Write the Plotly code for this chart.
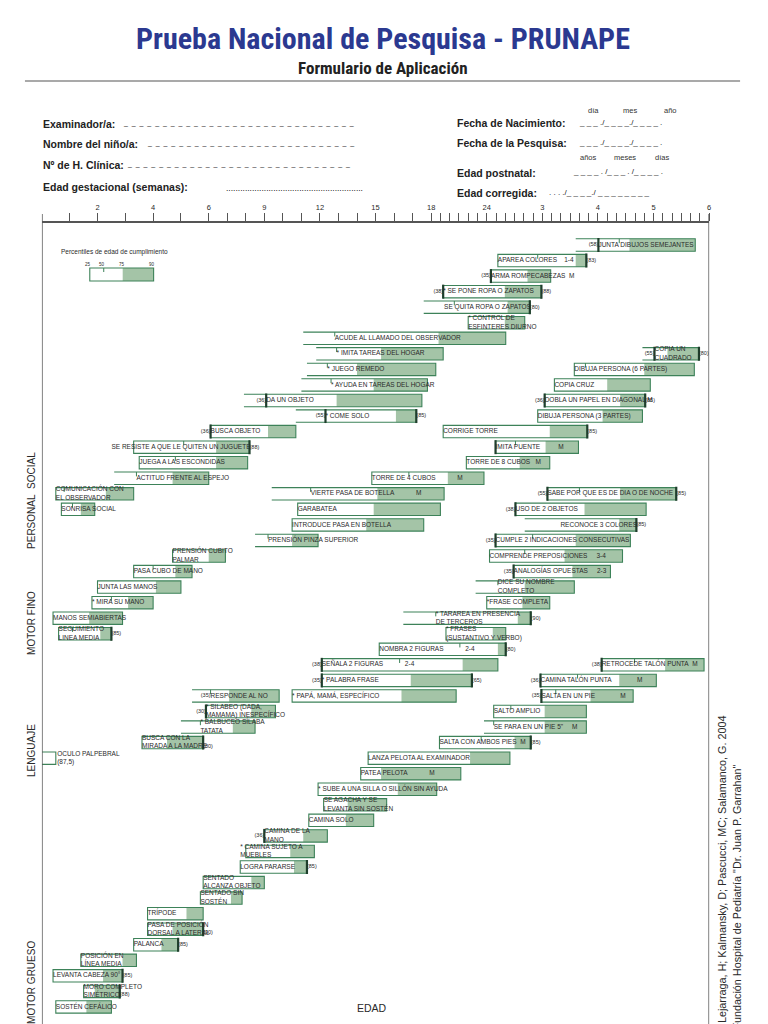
import numpy as np
import plotly.graph_objects as go

NB = "\u00a0"

# age scale of the form (months): labelled knots are equally spaced on the axis
AGE_KNOTS = [0, 2, 4, 6, 9, 12, 15, 18, 24, 36, 48, 60, 72]
KNOT_TEXT = ["", "2", "4", "6", "9", "12", "15", "18", "24", "3", "4", "5", "6"]
TICK_AGES = list(range(1, 25)) + list(range(26, 73, 2))

ITEMS = [
    "JUNTA DIBUJOS SEMEJANTES", "APAREA COLORES" + NB * 4 + "1-4", "ARMA ROMPECABEZAS" + NB * 2 + "M",
    "* SE PONE ROPA O ZAPATOS", "SE QUITA ROPA O ZAPATOS", "* CONTROL DE<br>ESFINTERES DIURNO",
    "ACUDE AL LLAMADO DEL OBSERVADOR", "* IMITA TAREAS DEL HOGAR", "* JUEGO REMEDO",
    "* AYUDA EN TAREAS DEL HOGAR", "DA UN OBJETO", "* COME SOLO", "BUSCA OBJETO",
    "SE RESISTE A QUE LE QUITEN UN JUGUETE", "JUEGA A LAS ESCONDIDAS", "ACTITUD FRENTE AL ESPEJO",
    "COMUNICACIÓN CON<br>EL OBSERVADOR", "SONRISA SOCIAL",
    "COPIA UN<br>CUADRADO", "DIBUJA PERSONA (6 PARTES)", "COPIA CRUZ",
    "DOBLA UN PAPEL EN DIAGONAL M", "DIBUJA PERSONA (3 PARTES)", "CORRIGE TORRE",
    "IMITA PUENTE" + NB * 10 + "M", "TORRE DE 8 CUBOS" + NB * 3 + "M", "TORRE DE 4 CUBOS" + NB * 12 + "M",
    "VIERTE PASA DE BOTELLA" + NB * 12 + "M", "GARABATEA", "INTRODUCE PASA EN BOTELLA",
    "PRENSIÓN PINZA SUPERIOR", "PRENSIÓN CUBITO<br>PALMAR", "PASA CUBO DE MANO", "JUNTA LAS MANOS",
    "* MIRA SU MANO", "MANOS SEMIABIERTAS", "SEGUIMIENTO<br>LINEA MEDIA",
    "SABE POR QUE ES DE DIA O DE NOCHE", "USO DE 2 OBJETOS", "RECONOCE 3 COLORES",
    "CUMPLE 2 INDICACIONES CONSECUTIVAS", "COMPRENDE PREPOSICIONES" + NB * 5 + "3-4",
    "ANALOGÍAS OPUESTAS" + NB * 5 + "2-3", "DICE SU NOMBRE<br>COMPLETO", "*FRASE COMPLETA",
    "* TARAREA EN PRESENCIA<br>DE TERCEROS", "* FRASES<br>(SUSTANTIVO Y VERBO)",
    "NOMBRA 2 FIGURAS" + NB * 12 + "2-4", "SEÑALA 2 FIGURAS" + NB * 12 + "2-4", "* PALABRA FRASE",
    "* PAPÁ, MAMÁ, ESPECÍFICO", "RESPONDE AL NO", "* SILABEO (DADA,<br>MAMAMA) INESPECÍFICO",
    "* BALBUCEO SÍLABA<br>TATATA", "BUSCA CON LA<br>MIRADA A LA MADRE", "OCULO PALPEBRAL<br>(87,5)",
    "RETROCEDE TALÓN PUNTA" + NB * 2 + "M", "CAMINA TALÓN PUNTA" + NB * 14 + "M",
    "SALTA EN UN PIE" + NB * 14 + "M", "SALTO AMPLIO", "SE PARA EN UN PIE 5\"" + NB * 5 + "M",
    "SALTA CON AMBOS PIES" + NB * 2 + "M", "LANZA PELOTA AL EXAMINADOR", "PATEA PELOTA" + NB * 12 + "M",
    "* SUBE A UNA SILLA O SILLÓN SIN AYUDA", "SE AGACHA Y SE<br>LEVANTA SIN SOSTÉN", "CAMINA SOLO",
    "CAMINA DE LA<br>MANO", "* CAMINA SUJETO A<br>MUEBLES", "LOGRA PARARSE", "SENTADO<br>ALCANZA OBJETO",
    "SENTADO SIN<br>SOSTÉN", "TRÍPODE", "PASA DE POSICIÓN<br>DORSAL A LATERAL", "PALANCA",
    "POSICIÓN EN<br>LÍNEA MEDIA", "LEVANTA CABEZA 90°", "MORO COMPLETO<br>SIMÉTRICO", "SOSTÉN CEFÁLICO",
]

ROWS = [
    0, 1, 2, 3, 4, 5, 6, 7, 8, 9, 10, 11, 12, 13, 14, 15, 16, 17,
    7, 8, 9, 10, 11, 12, 13, 14, 15, 16, 17, 18, 19, 20, 21, 22, 23, 24, 25,
    16, 17, 18, 19, 20, 21, 22, 23, 24, 25, 26, 27, 28, 29, 29, 30, 31, 32, 33,
    27, 28, 29, 30, 31, 32, 33, 34, 35, 36, 37, 38, 39, 40, 41, 42, 43, 44, 45, 46, 47, 48, 49,
]

# ages in months
START = [
    43.2, 26.4, 24.9, 19.3, 17.6, 22.0, 11.1, 11.8, 11.3, 11.0, 7.9, 10.7, 6.1, 3.3, 3.5, 2.6, 0.5, 0.7,
    57.6, 42.9, 38.6, 36.5, 35.0, 19.3, 25.9, 21.8, 14.8, 9.4, 10.8, 10.5, 8.5, 4.7, 3.3, 2.0, 1.8, 0.4, 0.6,
    37.1, 30.2, 32.2, 25.9, 24.6, 29.8, 22.8, 24.0, 16.5, 19.6, 15.2, 12.1, 12.1, 10.5, 5.4, 5.9, 5.0, 3.6, 0.0,
    48.8, 35.6, 35.8, 25.5, 23.7, 18.9, 14.6, 14.2, 11.9, 12.2, 11.4, 9.0, 8.0, 7.7, 5.8, 5.7, 3.8, 3.8, 3.3,
    1.4, 0.4, 1.5, 0.5,
]
P50 = [
    52.6, 35.0, None, None, 20.5, None, 12.8, 12.9, 12.4, 12.6, None, None, None, 5.1, 4.8, 3.4, 0.8, 1.1,
    None, 45.3, None, None, None, None, 30.2, None, 16.8, 11.5, None, None, 9.2, None, 4.0, None, 2.5, None, 1.1,
    44.0, None, None, 33.9, 32.2, None, 26.4, None, 18.5, None, 21.1, 16.3, None, None, 6.1, None, 5.7, None, None,
    55.9, 43.6, 38.9, 29.2, 25.5, 23.4, None, None, None, None, None, None, None, None, None, None, None, None,
    None, None, None, None, None,
]
P75 = [
    54.8, 43.2, 32.8, 27.9, 28.5, 27.9, 18.8, 15.3, 14.0, 14.9, 12.9, 16.1, 9.2, 6.4, 6.4, 4.7, 2.3, 1.4,
    63.0, 58.0, 50.0, 52.8, 49.0, 37.6, 36.7, 31.1, 19.8, 15.1, 14.9, 14.5, 10.5, 6.0, 4.8, 4.1, 3.1, 1.7, 2.1,
    52.8, 45.1, 52.6, 43.2, 40.8, 42.5, 32.2, 31.7, 30.7, 25.3, 26.4, 21.4, 16.9, 16.4, 7.1, 8.3, 7.3, 4.5, 0.5,
    62.5, 52.6, 46.4, 36.5, 36.5, 30.0, 22.2, 15.3, 16.2, 13.5, 13.4, 11.1, 10.4, 10.6, 8.3, 7.2, 5.2, 4.7, 4.3,
    2.9, 2.2, 1.9, 1.6,
]
P90 = [
    69.0, 45.5, 37.8, 35.8, 33.3, 32.2, 28.1, 19.3, 18.5, 17.8, 17.5, 17.2, 10.7, 8.2, 8.1, 6.0, 3.3, 1.9,
    69.8, 68.8, 59.3, 58.2, 57.6, 45.7, 43.8, 37.6, 23.7, 19.4, 19.0, 17.6, 11.9, 6.9, 5.4, 5.0, 4.0, 2.9, 2.5,
    64.9, 58.4, 56.3, 55.0, 53.3, 50.7, 42.9, 37.6, 33.5, 28.1, 28.1, 26.4, 22.4, 20.7, 9.8, 9.6, 8.5, 5.8, 0.5,
    70.9, 60.6, 55.6, 45.5, 45.5, 33.5, 29.0, 21.2, 18.6, 15.6, 14.9, 12.4, 11.7, 11.3, 9.0, 7.8, 5.8, 5.8, 4.9,
    3.4, 2.9, 2.8, 2.5,
]
# 1 = bar open on the left (only top/bottom lines)
OPEN = [
    1, 0, 0, 0, 1, 0, 1, 1, 1, 1, 1, 1, 0, 0, 0, 1, 0, 0,
    1, 0, 0, 0, 0, 0, 0, 0, 0, 1, 0, 0, 1, 0, 0, 0, 0, 0, 0,
    0, 0, 1, 0, 0, 0, 1, 0, 1, 0, 0, 0, 0, 0, 1, 0, 1, 0, 1,
    0, 0, 0, 0, 1, 0, 0, 0, 0, 0, 0, 0, 0, 0, 0, 0, 0, 0, 0, 0, 0, 0, 0,
]
# thick left mark (age) and its note
MARK_L = [
    48.1, None, 24.9, 19.3, None, None, None, None, None, None, 9.1, 12.3, 6.1, None, None, None, None, None,
    60.2, None, None, 36.5, None, None, 25.9, None, None, None, None, None, None, None, None, None, None, None, None,
    37.1, 30.2, None, 25.9, None, 29.8, None, None, None, None, None, 12.1, 12.1, None, None, 5.9, None, None, None,
    48.8, 35.6, 35.8, None, None, None, None, None, None, None, None, 9.0, None, None, None, None, None, None, None,
    None, None, None, None,
]
NOTE_L = [
    "(58)", "", "(35)", "(38)", "", "", "", "", "", "", "(36)", "(55)", "(36)", "", "", "", "", "",
    "(55)", "", "", "(36)", "", "", "", "", "", "", "", "", "", "", "", "", "", "", "",
    "(55)", "(38)", "", "(35)", "", "(35)", "", "", "", "", "", "(38)", "(35)", "", "(35)", "(30)", "", "", "",
    "(38)", "(36)", "(35)", "", "", "", "", "", "", "", "", "(36)", "", "", "", "", "", "", "", "", "", "", "",
]
# note at the right end (thick right edge)
NOTE_R = [
    "", "(83)", "", "(88)", "(80)", "", "", "", "", "", "", "(85)", "", "(88)", "", "", "", "",
    "(80)", "", "", "(85)", "", "(85)", "", "", "", "", "", "", "", "", "", "", "", "", "(85)",
    "(85)", "", "(85)", "", "", "", "", "", "(90)", "", "(80)", "", "(65)", "", "", "", "", "<br>(80)", "",
    "", "", "", "", "", "(85)", "", "", "", "", "", "", "", "(85)", "", "", "", "<br>(90)", "(85)", "", "(85)",
    "<br>(88)", "",
]
# label start where it differs from the bar start
LABEL_AT = {4: 19.4, 13: 2.5, 39: 39.9, 55: 0.55, 68: 7.7}

EDGE = "#3d8259"
FILL = "#a4c4a7"
DARK = "#1f3f2c"
TXT = "#2a2a2a"
FONT = "Liberation Sans, Arial, sans-serif"
NARROW = "Liberation Sans Narrow, Roboto Condensed, Liberation Sans, sans-serif"

# the page body adds an 8 px margin; the figure fills the rest of the 768x1024 window
PAGE = 8
W, H = 768 - PAGE, 1024 - PAGE
ROW0, ROW_H = 245, 15.55
HALF = 0.4


def px(x):
    return (x - PAGE) / W


def py(y):
    return 1 - (y - PAGE) / H


def to_axis(v):
    return None if v is None else float(np.interp(v, AGE_KNOTS, np.arange(len(AGE_KNOTS))))


n = len(ITEMS)
u0 = [to_axis(v) for v in START]
u50 = [to_axis(v) for v in P50]
u75 = [to_axis(v) for v in P75]
u90 = [to_axis(v) for v in P90]
um = [to_axis(v) for v in MARK_L]

fig = go.Figure()

# green segment (p75 - p90)
fig.add_trace(go.Bar(
    y=ROWS, base=u75, x=[b - a for a, b in zip(u75, u90)], orientation="h", width=2 * HALF,
    marker=dict(color=FILL, line=dict(width=0)), hoverinfo="skip",
))
# closed outlines
closed = [i for i in range(n) if not OPEN[i]]
fig.add_trace(go.Bar(
    y=[ROWS[i] for i in closed], base=[u0[i] for i in closed],
    x=[u90[i] - u0[i] for i in closed], orientation="h", width=2 * HALF,
    marker=dict(color="rgba(0,0,0,0)", line=dict(color=EDGE, width=1.1)), hoverinfo="skip",
))
# open bars: top, right, bottom lines
ox, oy = [], []
for i in range(n):
    if OPEN[i]:
        r = ROWS[i]
        ox += [u0[i], u90[i], u90[i], u0[i], None]
        oy += [r - HALF, r - HALF, r + HALF, r + HALF, None]
fig.add_trace(go.Scatter(x=ox, y=oy, mode="lines", line=dict(color=EDGE, width=1.1), hoverinfo="skip"))

# median ticks
tx, ty = [], []
for i in range(n):
    if u50[i] is not None:
        tx += [u50[i], u50[i], None]
        ty += [ROWS[i] - HALF, ROWS[i] - 0.12, None]
fig.add_trace(go.Scatter(x=tx, y=ty, mode="lines", line=dict(color=EDGE, width=1), hoverinfo="skip"))

# thick marks
kx, ky = [], []
for i in range(n):
    if um[i] is not None:
        kx += [um[i], um[i], None]
        ky += [ROWS[i] - HALF - 0.05, ROWS[i] + HALF + 0.05, None]
    if NOTE_R[i]:
        kx += [u90[i], u90[i], None]
        ky += [ROWS[i] - HALF - 0.05, ROWS[i] + HALF + 0.05, None]
fig.add_trace(go.Scatter(x=kx, y=ky, mode="lines", line=dict(color=DARK, width=2.2), hoverinfo="skip"))

# labels
lab_x = []
for i in range(n):
    if i in LABEL_AT:
        lab_x.append(to_axis(LABEL_AT[i]))
    elif um[i] is not None:
        lab_x.append(um[i])
    elif OPEN[i] and u50[i] is not None:
        lab_x.append(u50[i])
    else:
        lab_x.append(u0[i])
fig.add_trace(go.Scatter(
    x=lab_x, y=ROWS, mode="text", text=ITEMS, textposition="middle right",
    textfont=dict(family=FONT, size=6.5, color=TXT), hoverinfo="skip", cliponaxis=False,
))
nl = [i for i in range(n) if NOTE_L[i]]
fig.add_trace(go.Scatter(
    x=[um[i] if um[i] is not None else lab_x[i] for i in nl], y=[ROWS[i] for i in nl],
    mode="text", text=[NOTE_L[i] for i in nl], textposition="middle left",
    textfont=dict(family=FONT, size=5.5, color=TXT), hoverinfo="skip",
))
nr = [i for i in range(n) if NOTE_R[i]]
fig.add_trace(go.Scatter(
    x=[u90[i] for i in nr], y=[ROWS[i] for i in nr],
    mode="text", text=[NOTE_R[i] for i in nr], textposition="middle right",
    textfont=dict(family=FONT, size=5.5, color=TXT), hoverinfo="skip",
))

tick_vals = [to_axis(a) for a in TICK_AGES]
tick_text = [KNOT_TEXT[AGE_KNOTS.index(a)] if a in AGE_KNOTS else "" for a in TICK_AGES]

shapes = [
    dict(type="line", xref="paper", yref="paper", x0=px(25), x1=px(742), y0=py(81), y1=py(81),
         line=dict(color="#8c8c8c", width=1.5)),
    dict(type="line", xref="x", yref="paper", x0=0, x1=0, y0=0, y1=py(214), line=dict(color="#555", width=1.5)),
    dict(type="line", xref="x", yref="paper", x0=12, x1=12, y0=0, y1=py(214), line=dict(color="#555", width=1.5)),
    # legend box
    dict(type="rect", xref="paper", yref="paper", x0=px(123), x1=px(154), y0=py(281), y1=py(268),
         fillcolor=FILL, line=dict(width=0)),
    dict(type="rect", xref="paper", yref="paper", x0=px(90), x1=px(154), y0=py(281), y1=py(268),
         line=dict(color=EDGE, width=1.1)),
    dict(type="line", xref="paper", yref="paper", x0=px(104), x1=px(104), y0=py(268), y1=py(272),
         line=dict(color=EDGE, width=1)),
]

ann = []


def text(x, y, s, size, color=TXT, bold=False, xanchor="left", family=FONT, angle=0, yanchor="middle"):
    ann.append(dict(x=px(x), y=py(y), xref="paper", yref="paper", text=f"<b>{s}</b>" if bold else s,
                    showarrow=False, xanchor=xanchor, yanchor=yanchor, textangle=angle,
                    font=dict(family=family, size=size, color=color)))


text(384, 39, "Prueba Nacional de Pesquisa - PRUNAPE", 30, "#2b3990", True, "center", NARROW)
text(384, 68, "Formulario de Aplicación", 17, "#222", True, "center", NARROW)

dash = "_" + NB * 2
text(41, 124, "Examinador/a:", 10.5, "#222", True)
text(121, 123, dash * 30, 7, "#222")
text(41, 144, "Nombre del niño/a:", 10.5, "#222", True)
text(145, 143, dash * 27, 7, "#222")
text(41, 165, "Nº de H. Clínica:", 10.5, "#222", True)
text(125, 164, dash * 29, 7, "#222")
text(41, 187, "Edad gestacional (semanas):", 10.5, "#222", True)
text(225, 188, "." * 58, 8.5, "#222")

text(456, 123, "Fecha de Nacimiento:", 10.5, "#222", True)
text(578, 122, "_ _ _ ./_ _ _ _./_ _ _ _ .", 8, "#222")
text(456, 143, "Fecha de la Pesquisa:", 10.5, "#222", True)
text(578, 142, "_ _ _ ./_ _ _ _./_ _ _ _ .", 8, "#222")
text(456, 173, "Edad postnatal:", 10.5, "#222", True)
text(572, 172, "_ _ _ _ . /_ _ _ . /_ _ _ _ .", 8, "#222")
text(456, 193, "Edad corregida:", 10.5, "#222", True)
text(548, 192, ". . . ./_ _ _ _./ _ _ _ _ _ _ _ _", 8, "#222")
for s, x in [("día", 595), ("mes", 632), ("año", 672)]:
    text(x, 110, s, 7.5, "#333", xanchor="center")
for s, x in [("años", 590), ("meses", 627), ("días", 664)]:
    text(x, 158, s, 7.5, "#333", xanchor="center")

# legend
text(59, 252, "Percentiles de edad de cumplimiento", 6.5)
for s, x in [("25", 88), ("50", 102), ("75", 122), ("90", 152)]:
    text(x, 264, s, 4.5, xanchor="center")

for s, y in [("PERSONAL" + NB * 2 + "SOCIAL", 500), ("MOTOR FINO", 623), ("LENGUAJE", 750),
             ("MOTOR GRUESO", 982)]:
    text(31, y, s, 10, xanchor="center", angle=-90)

text(724, 713, "Lejarraga, H; Kalmansky, D; Pascucci, MC; Salamanco, G. 2004", 10.8,
     xanchor="center", angle=-90, yanchor="top")
text(738, 763, "Fundación Hospital de Pediatría \"Dr. Juan P. Garrahan\"", 10.8,
     xanchor="center", angle=-90, yanchor="top")
text(373, 1008, "EDAD", 10.5, xanchor="center")

fig.update_layout(
    width=W, height=H, margin=dict(l=0, r=0, t=0, b=0),
    paper_bgcolor="white", plot_bgcolor="white", showlegend=False, barmode="overlay",
    xaxis=dict(domain=[px(42), px(711)], range=[0, 12], side="top", anchor="free", position=py(222),
               showline=True, linecolor="#555", linewidth=1.5, ticks="outside", ticklen=8,
               tickwidth=1, tickcolor="#555", tickvals=tick_vals, ticktext=tick_text,
               tickfont=dict(family=FONT, size=7.5, color=TXT), showgrid=False, zeroline=False,
               fixedrange=True),
    yaxis=dict(domain=[0, 1], range=[(H + PAGE - ROW0) / ROW_H, (PAGE - ROW0) / ROW_H], visible=False,
               fixedrange=True),
    shapes=shapes, annotations=ann,
)

fig.write_html("out.html")
